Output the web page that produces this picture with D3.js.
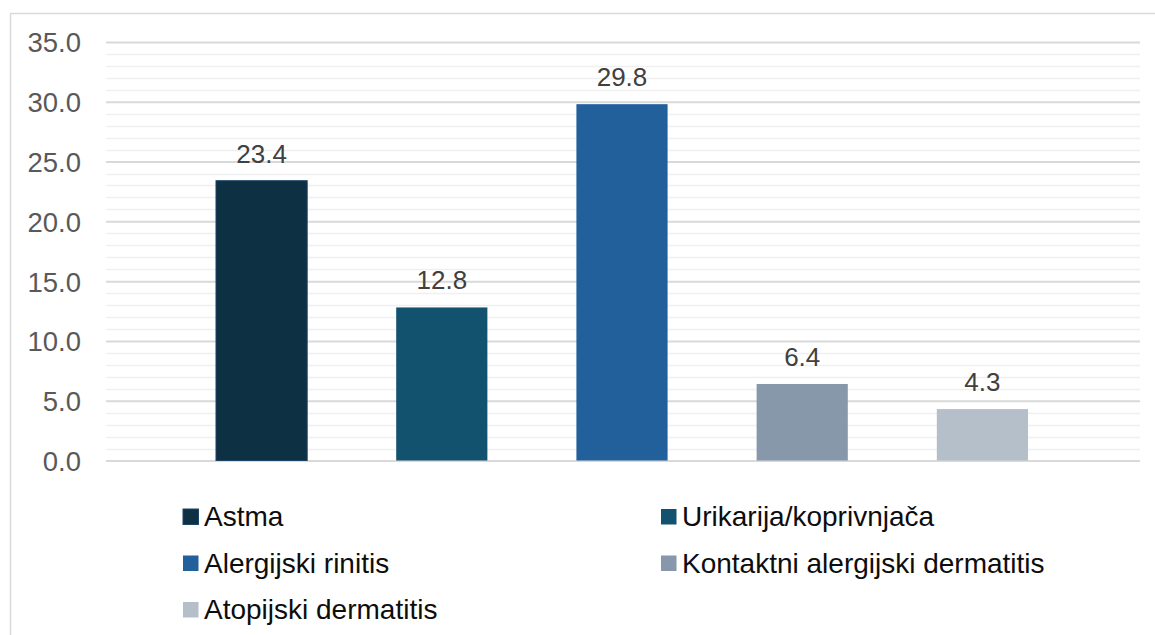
<!DOCTYPE html>
<html>
<head>
<meta charset="utf-8">
<script src="https://cdn.jsdelivr.net/npm/d3@7"></script>
<style>
  body { margin: 0; background: #fff; }
  svg { display: block; font-family: "Liberation Sans", Arial, sans-serif; }
</style>
</head>
<body>
<div id="fig"><svg width="1155" height="635"></svg></div>
<script>
// chart data
const seriesNames = ['Astma', 'Urikarija/koprivnjača', 'Alergijski rinitis', 'Kontaktni alergijski dermatitis', 'Atopijski dermatitis'];
const seriesValues = [23.4, 12.8, 29.8, 6.4, 4.3];
const seriesColors = ['#0e3043', '#12526f', '#22609b', '#8698aa', '#b4bfca'];
const yTicks = [0, 5, 10, 15, 20, 25, 30, 35];

function whenDocumentLoaded(action) {
	if (document.readyState === "loading") {
		document.addEventListener("DOMContentLoaded", action);
	} else {
		action();
	}
}

whenDocumentLoaded(() => {
	const svg = d3.select('#fig svg');

	// outer chart frame
	svg.append('rect')
		.attr('x', 10.5).attr('y', 13.5)
		.attr('width', 1160).attr('height', 640)
		.attr('fill', 'none')
		.attr('stroke', '#d9d9d9')
		.attr('stroke-width', 1.5);

	const plot = { left: 106, right: 1140, top: 42, bottom: 460.5 };

	const scaleY = d3.scaleLinear().domain([0, 35]).range([plot.bottom, plot.top]);
	const scaleX = d3.scaleBand()
		.domain(seriesNames)
		.range([plot.left + 110, plot.right - 112])
		.paddingInner(0.494)
		.paddingOuter(0);

	// minor gridlines every 1
	svg.append('g')
		.selectAll('line')
		.data(d3.range(0, 36).filter(v => v % 5 !== 0))
		.join('line')
		.attr('x1', plot.left).attr('x2', plot.right)
		.attr('y1', d => Math.round(scaleY(d)) + 0.5)
		.attr('y2', d => Math.round(scaleY(d)) + 0.5)
		.attr('stroke', '#f0f0f0')
		.attr('stroke-width', 1.5);

	// major gridlines via axis
	const yAxis = d3.axisLeft(scaleY)
		.tickValues(yTicks)
		.tickSize(plot.left - plot.right)
		.tickPadding(25)
		.tickFormat(d3.format('.1f'));

	const gAxis = svg.append('g')
		.attr('transform', `translate(${plot.left},0)`)
		.call(yAxis);
	gAxis.select('.domain').remove();
	gAxis.selectAll('.tick line')
		.attr('stroke', '#d9d9d9')
		.attr('stroke-width', 2);
	gAxis.selectAll('.tick text')
		.attr('fill', '#595959')
		.style('font-size', '27.5px')
		.style('font-family', '"Liberation Sans", Arial, sans-serif')
		.attr('dy', '0.36em');

	// bars
	svg.append('g')
		.selectAll('rect')
		.data(seriesNames)
		.join('rect')
		.attr('x', d => scaleX(d))
		.attr('width', scaleX.bandwidth())
		.attr('y', (d, i) => scaleY(seriesValues[i]))
		.attr('height', (d, i) => plot.bottom - scaleY(seriesValues[i]))
		.attr('fill', (d, i) => seriesColors[i])
		.attr('stroke', (d, i) => i === 0 ? '#1f4469' : 'none')
		.attr('stroke-width', 1);

	// data labels
	svg.append('g')
		.selectAll('text')
		.data(seriesNames)
		.join('text')
		.attr('x', d => scaleX(d) + scaleX.bandwidth() / 2)
		.attr('y', (d, i) => scaleY(seriesValues[i]) - 18)
		.attr('text-anchor', 'middle')
		.attr('fill', '#404040')
		.style('font-size', '26px')
		.text((d, i) => d3.format('.1f')(seriesValues[i]));

	// legend, two columns
	const legend = svg.append('g');
	const items = legend.selectAll('g')
		.data(seriesNames)
		.join('g')
		.attr('transform', (d, i) => `translate(${i % 2 === 0 ? 183 : 661},${509 + Math.floor(i / 2) * 46.5})`);
	items.append('rect')
		.attr('width', 15.5).attr('height', 15.5)
		.attr('fill', (d, i) => seriesColors[i])
		.attr('stroke', (d, i) => i === 0 ? '#1f4469' : 'none');
	items.append('text')
		.attr('x', 21)
		.attr('y', 17)
		.attr('fill', '#0d0d0d')
		.style('font-size', '28px')
		.text(d => d);
});
</script>
</body>
</html>
